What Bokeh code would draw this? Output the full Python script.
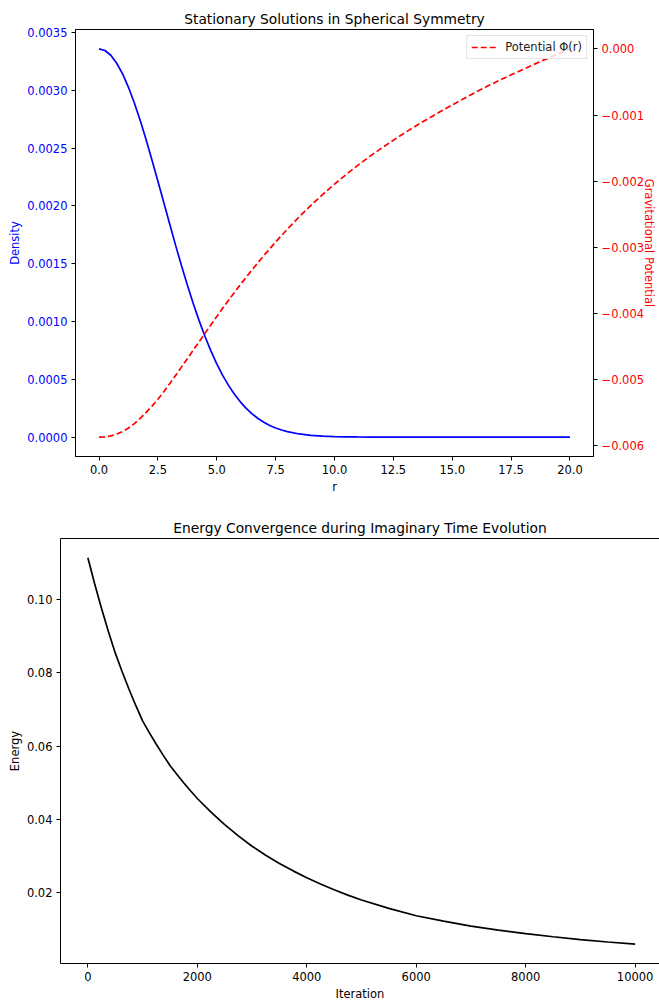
from bokeh.plotting import figure
from bokeh.models import (Range1d, LinearAxis, FixedTicker, PrintfTickFormatter,
                          CustomJSTickFormatter, Legend)
from bokeh.embed import file_html
from bokeh.resources import INLINE

# ---------------- data ----------------
r_density = [0.0, 0.25, 0.5, 0.75, 1.0, 1.25, 1.5, 1.75, 2.0, 2.25, 2.5, 2.75, 3.0,
             3.25, 3.5, 3.75, 4.0, 4.25, 4.5, 4.75, 5.0, 5.25, 5.5, 5.75, 6.0, 6.25,
             6.5, 6.75, 7.0, 7.25, 7.5, 7.75, 8.0, 8.5, 9.0, 9.5, 10.0, 10.5, 11.0,
             11.5, 12.0, 12.5, 13.0, 13.5, 14.0, 14.5, 15.0, 15.5, 16.0, 16.5, 17.0,
             17.5, 18.0, 18.5, 19.0, 19.5, 20.0]
density = [0.003357, 0.003343, 0.003302, 0.003233, 0.003141, 0.003025, 0.002889,
           0.002737, 0.002571, 0.002395, 0.002213, 0.002028, 0.001842, 0.001660,
           0.001483, 0.001315, 0.001155, 0.001007, 0.000870, 0.000746, 0.000634,
           0.000534, 0.000447, 0.000370, 0.000305, 0.000248, 0.000201, 0.000161,
           0.000128, 0.000101, 0.000079, 0.000061, 0.000047, 0.000027, 0.000015,
           0.0000082, 0.0000043, 0.0000022, 0.0000011, 0.0000005, 0.0000002, 0.0,
           0.0, 0.0, 0.0, 0.0, 0.0, 0.0, 0.0, 0.0, 0.0, 0.0, 0.0, 0.0, 0.0, 0.0, 0.0]

r_potential = [0.0, 0.25, 0.5, 0.75, 1.0, 1.25, 1.5, 1.75, 2.0, 2.25, 2.5, 2.75, 3.0,
               3.5, 4.0, 4.5, 5.0, 5.5, 6.0, 6.5, 7.0, 7.5, 8.0, 8.5, 9.0, 9.5, 10.0,
               10.5, 11.0, 11.5, 12.0, 12.5, 13.0, 13.5, 14.0, 14.5, 15.0, 15.5, 16.0,
               16.5, 17.0, 17.5, 18.0, 18.5, 19.0, 19.5, 20.0]
potential = [-0.005870, -0.0058655, -0.005852, -0.0058245, -0.005787, -0.005732,
             -0.005667, -0.005587, -0.005497, -0.005402, -0.005297, -0.005183,
             -0.005062, -0.004812, -0.004557, -0.004300, -0.004045, -0.003800,
             -0.003565, -0.003340, -0.003125, -0.002920, -0.002725, -0.002540,
             -0.002365, -0.002200, -0.002045, -0.0018975, -0.0017575, -0.001625,
             -0.001500, -0.001380, -0.001265, -0.001155, -0.001050, -0.0009475,
             -0.0008475, -0.000750, -0.000655, -0.0005625, -0.000476, -0.000392,
             -0.0003105, -0.000230, -0.000151, -0.0000735, 0.0]

iterations = [0, 125, 250, 375, 500, 625, 750, 875, 1000, 1125, 1250, 1375, 1500,
              1625, 1750, 1875, 2000, 2250, 2500, 2750, 3000, 3250, 3500, 3750, 4000,
              4250, 4500, 4750, 5000, 5500, 6000, 6500, 7000, 7500, 8000, 8500, 9000,
              9500, 10000]
energy = [0.1113, 0.10417, 0.09749, 0.09124, 0.08539, 0.08032, 0.07555, 0.07106,
          0.06684, 0.06358, 0.06048, 0.05753, 0.05472, 0.05231, 0.05001, 0.04781,
          0.04571, 0.04199, 0.03856, 0.03551, 0.03269, 0.03025, 0.02800, 0.02598,
          0.02410, 0.02241, 0.02084, 0.01938, 0.01803, 0.01575, 0.01376, 0.01227,
          0.01093, 0.00984, 0.00886, 0.00802, 0.00725, 0.00660, 0.00600]

r_ticks = [0.0, 2.5, 5.0, 7.5, 10.0, 12.5, 15.0, 17.5, 20.0]
density_ticks = [0.0, 0.0005, 0.0010, 0.0015, 0.0020, 0.0025, 0.0030, 0.0035]
potential_ticks = [-0.006, -0.005, -0.004, -0.003, -0.002, -0.001, 0.0]
iter_ticks = [0, 2000, 4000, 6000, 8000, 10000]
energy_ticks = [0.02, 0.04, 0.06, 0.08, 0.10]

FONT = "DejaVu Sans"
TICK_FS = "11.5px"
LABEL_FS = "11.5px"
TITLE_FS = "13.8px"


def pad(lo, hi, frac=0.05):
    d = (hi - lo) * frac
    return lo - d, hi + d


def style_axis(ax, color="black"):
    ax.major_label_text_font = FONT
    ax.major_label_text_font_size = TICK_FS
    ax.major_label_text_color = color
    ax.axis_label_text_font = FONT
    ax.axis_label_text_font_size = LABEL_FS
    ax.axis_label_text_font_style = "normal"
    ax.axis_label_text_color = color
    ax.major_tick_in = 0
    ax.major_tick_out = 4
    ax.minor_tick_out = 0
    ax.minor_tick_in = 0
    ax.major_tick_line_color = "black"
    ax.minor_tick_line_color = None
    ax.axis_line_color = "black"
    ax.major_label_standoff = 4
    ax.axis_label_standoff = 4


def style_fig(p):
    p.title.align = "center"
    p.title.text_font = FONT
    p.title.text_font_size = TITLE_FS
    p.title.text_font_style = "normal"
    p.title.text_color = "black"
    p.title.standoff = 6
    p.xgrid.visible = False
    p.ygrid.visible = False
    p.background_fill_color = "white"
    p.border_fill_color = "white"


# ---------------- top figure ----------------
x0, x1 = pad(min(r_density), max(r_density))
d0, d1 = pad(min(density), max(density))
q0, q1 = pad(min(potential), max(potential))

p1 = figure(width=659, height=500, x_range=Range1d(x0, x1), y_range=Range1d(d0, d1),
            output_backend="svg", toolbar_location=None,
            min_border_left=75, min_border_right=65, min_border_top=29, min_border_bottom=44,
            title="Stationary Solutions in Spherical Symmetry")
style_fig(p1)
p1.outline_line_color = "black"
p1.outline_line_alpha = 1.0

p1.line(r_density, density, line_color="blue", line_width=1.7)

p1.extra_y_ranges = {"pot": Range1d(q0, q1)}
pot_axis = LinearAxis(y_range_name="pot")
p1.add_layout(pot_axis, "right")
pot_r = p1.line(r_potential, potential, line_color="red", line_width=1.7,
                line_dash="6 3", y_range_name="pot")

xa = p1.xaxis[0]
xa.ticker = FixedTicker(ticks=r_ticks)
xa.formatter = PrintfTickFormatter(format="%.1f")
xa.axis_label = "r"
style_axis(xa)
xa.axis_label_standoff = 3

ya = p1.yaxis[0]
ya.ticker = FixedTicker(ticks=density_ticks)
ya.formatter = PrintfTickFormatter(format="%.4f")
ya.axis_label = "Density"
style_axis(ya, "blue")
ya.axis_label_standoff = 2

pot_axis.ticker = FixedTicker(ticks=potential_ticks)
pot_axis.formatter = CustomJSTickFormatter(
    code="var s = Math.abs(tick) < 1e-12 ? '0.000' : tick.toFixed(3); return s.replace('-', '\u2212');")
style_axis(pot_axis, "red")
pot_axis.major_label_standoff = 4
pot_axis.axis_label = "Gravitational Potential"
pot_axis.axis_label_standoff = -5

leg = Legend(items=[("Potential \u03a6(r)", [pot_r])], location="top_right")
leg.label_text_font = FONT
leg.label_text_font_size = LABEL_FS
leg.label_text_color = "#222222"
leg.glyph_width = 25
leg.glyph_height = 12
leg.label_height = 12
leg.label_standoff = 9
leg.padding = 4
leg.margin = 6
leg.spacing = 0
leg.border_line_color = "#cccccc"
leg.border_line_width = 1
leg.background_fill_alpha = 0.8
p1.add_layout(leg)

# ---------------- bottom figure ----------------
i0, i1 = pad(min(iterations), max(iterations))
e0, e1 = pad(min(energy), max(energy))

p2 = figure(width=659, height=503, x_range=Range1d(i0, i1 - 55), y_range=Range1d(e0, e1),
            output_backend="svg", toolbar_location=None,
            min_border_left=60, min_border_right=0, min_border_top=38, min_border_bottom=36,
            title="Energy Convergence during Imaginary Time Evolution")
style_fig(p2)
p2.outline_line_color = None

p2.line(iterations, energy, line_color="black", line_width=1.7)

bx = p2.xaxis[0]
bx.ticker = FixedTicker(ticks=iter_ticks)
bx.formatter = PrintfTickFormatter(format="%d")
bx.axis_label = "Iteration"
style_axis(bx)
bx.axis_label_standoff = 3

by = p2.yaxis[0]
by.ticker = FixedTicker(ticks=energy_ticks)
by.formatter = PrintfTickFormatter(format="%.2f")
by.axis_label = "Energy"
style_axis(by)
by.axis_label_standoff = 2

top_axis = LinearAxis(ticker=FixedTicker(ticks=[]), major_label_text_font_size="0px",
                      major_tick_line_color=None, minor_tick_line_color=None,
                      axis_line_color="black", major_tick_out=0, minor_tick_out=0,
                      major_label_standoff=0)
p2.add_layout(top_axis, "above")

open("out.html", "w").write(file_html([p1, p2], INLINE))
